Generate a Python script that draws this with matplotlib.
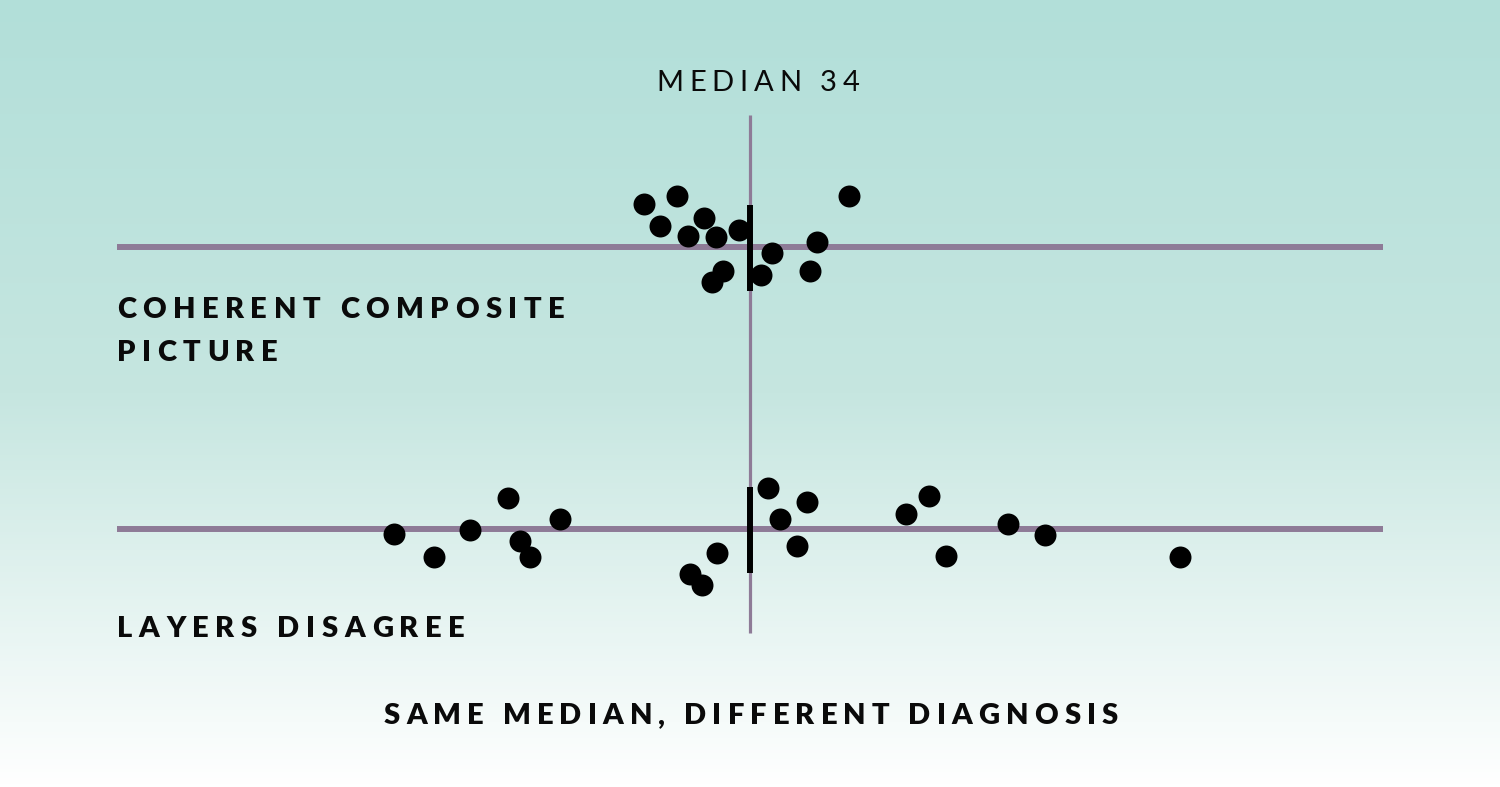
import numpy as np
import matplotlib.pyplot as plt
from matplotlib.colors import LinearSegmentedColormap
from matplotlib.font_manager import FontProperties

median = 34

# coherent row: values and vertical jitter (px)
top_x = [25.6, 28.2, 26.9, 30.4, 29.1, 31.3, 33.1, 35.7, 39.3, 41.8, 31.9, 31.0, 34.9, 38.7]
top_jit = [-43, -51, -21, -29, -11, -10, -17, 6, -5, -51, 24, 35, 28, 24]

# disagreeing row
bot_x = [5.9, 9.0, 11.9, 14.9, 15.8, 16.6, 19.0, 29.3, 30.2, 31.4,
         35.4, 36.4, 37.7, 38.5, 46.3, 48.1, 49.5, 54.4, 57.3, 68.0]
bot_jit = [5, 28, 1, -31, 12, 28, -10, 45, 56, 24,
           -41, -10, 17, -27, -15, -33, 27, -5, 6, 28]

W, H = 1500, 787
fig = plt.figure(figsize=(15, 7.87), dpi=100)
ax = fig.add_axes([0, 0, 1, 1])
px = 12.66  # pixels per unit
x0 = median - 750 / px
x1 = x0 + W / px
ax.set_xlim(x0, x1)
ax.set_ylim(H, 0)
ax.axis('off')

# background gradient
grad = np.linspace(0, 1, 256).reshape(-1, 1)
cmap = LinearSegmentedColormap.from_list('bg', [(0, '#b2dfd9'), (0.5, '#c6e6e0'), (1, '#ffffff')])
ax.imshow(grad, extent=[x0, x1, H, 0], aspect='auto', cmap=cmap, zorder=0)

line_c = '#8e7b97'
rows = [246.5, 528.5]
ax.hlines(rows, median - 50, median + 50, color=line_c, lw=4.3, zorder=1)
ax.vlines(median, 115, 633, color=line_c, lw=2.3, zorder=1)
for yr in rows:
    ax.vlines(median, yr - 42, yr + 44, color='k', lw=4.3, zorder=4)

ax.scatter(top_x, rows[0] + np.array(top_jit), s=250, c='k', linewidths=0, zorder=3)
ax.scatter(bot_x, rows[1] + np.array(bot_jit), s=250, c='k', linewidths=0, zorder=3)


def tracked(x, y, s, size, weight, track, ha='left', family='Lato'):
    r = fig.canvas.get_renderer()
    fp = FontProperties(family=family, size=size, weight=weight)

    def w(t):
        return r.get_text_width_height_descent(t, fp, ismath=False)[0]
    sp = w('a a') - w('aa')
    widths = [sp if c == ' ' else w(c) for c in s]
    total = sum(widths) + track * (len(s) - 1)
    cx = x - total / 2 if ha == 'center' else x
    for c, cw in zip(s, widths):
        if c != ' ':
            fig.text(cx / W, 1 - y / H, c, fontproperties=fp, ha='left',
                     va='baseline', color='#0a0a0a')
        cx += cw + track


tracked(758, 91, 'MEDIAN 34', 21, 'normal', 5.8, ha='center')
tracked(117, 318, 'COHERENT COMPOSITE', 21, 'heavy', 6.5)
tracked(117, 361, 'PICTURE', 21, 'heavy', 6.5)
tracked(117, 637, 'LAYERS DISAGREE', 21, 'heavy', 6.6)
tracked(751, 724, 'SAME MEDIAN, DIFFERENT DIAGNOSIS', 21, 'heavy', 6.1, ha='center')

plt.savefig('out.png', dpi=100)
